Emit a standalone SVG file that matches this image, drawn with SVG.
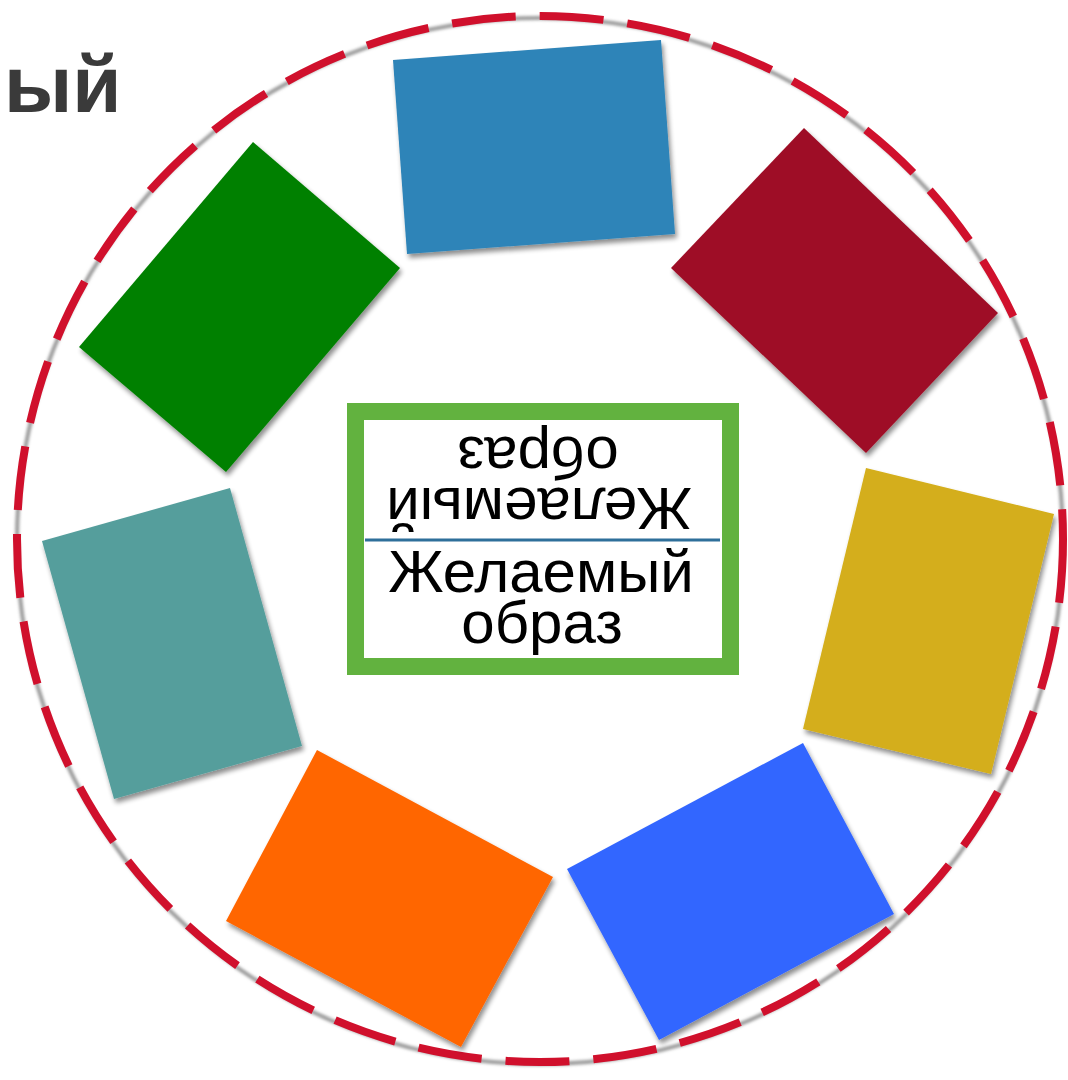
<svg xmlns="http://www.w3.org/2000/svg" width="1068" height="1080" viewBox="0 0 1068 1080">
<defs>
<filter id="sh" x="-10%" y="-10%" width="130%" height="130%">
<feGaussianBlur in="SourceAlpha" stdDeviation="2.5"/>
<feOffset dx="2" dy="4" result="b"/>
<feComponentTransfer><feFuncA type="linear" slope="0.45"/></feComponentTransfer>
<feMerge><feMergeNode/><feMergeNode in="SourceGraphic"/></feMerge>
</filter>
<filter id="cs" x="-5%" y="-5%" width="110%" height="110%">
<feGaussianBlur stdDeviation="1.5"/>
</filter>
</defs>
<style>
.t{font-family:"Liberation Sans",Arial,sans-serif;font-size:60px;fill:#000;text-anchor:middle}
.h{font-family:"Liberation Sans",Arial,sans-serif;font-weight:bold;font-size:80px;fill:#3a3a3a}
.card{filter:url(#sh)}
</style>
<rect width="1068" height="1080" fill="#fff"/>
<text class="h" x="4" y="112">ый</text>
<g id="ring">
<circle cx="540" cy="541" r="523" fill="none" stroke="#9a9a9a" stroke-width="4" filter="url(#cs)"/>
<circle cx="540" cy="539" r="523" fill="none" stroke="#d0102c" stroke-width="8" stroke-dasharray="64 24"/>
</g>
<g id="connectors"></g>
<g id="n-blue"><polygon class="card" points="393,60 661,40 675,234 407,254" fill="#2f84b8"/></g>
<g id="n-darkred"><polygon class="card" points="804,128 998,313 866,453 671,268" fill="#9e1027"/></g>
<g id="n-gold"><polygon class="card" points="866,468 1054,514 991,774 803,729" fill="#d4ae1a"/></g>
<g id="n-blue2"><polygon class="card" points="567,869 803,743 894,914 659,1040" fill="#3366ff"/></g>
<g id="n-orange"><polygon class="card" points="317,750 553,877 461,1047 226,921" fill="#ff6600"/></g>
<g id="n-teal"><polygon class="card" points="42,541 230,488 302,746 114,799" fill="#559e9c"/></g>
<g id="n-green"><polygon class="card" points="253,142 400,268 226,472 79,347" fill="#008000"/></g>
<g id="n-center">
<rect x="355.5" y="411.5" width="375" height="255" fill="#fff" stroke="#62b23f" stroke-width="17"/>
<line x1="365" y1="540" x2="720" y2="540" stroke="#2e6f9a" stroke-width="3"/>
<text class="t" x="541" y="592">Желаемый</text>
<text class="t" x="542" y="643">образ</text>
<g transform="rotate(180 540 540)">
<text class="t" x="541" y="592">Желаемый</text>
<text class="t" x="542" y="643">образ</text>
</g>
</g>
</svg>
